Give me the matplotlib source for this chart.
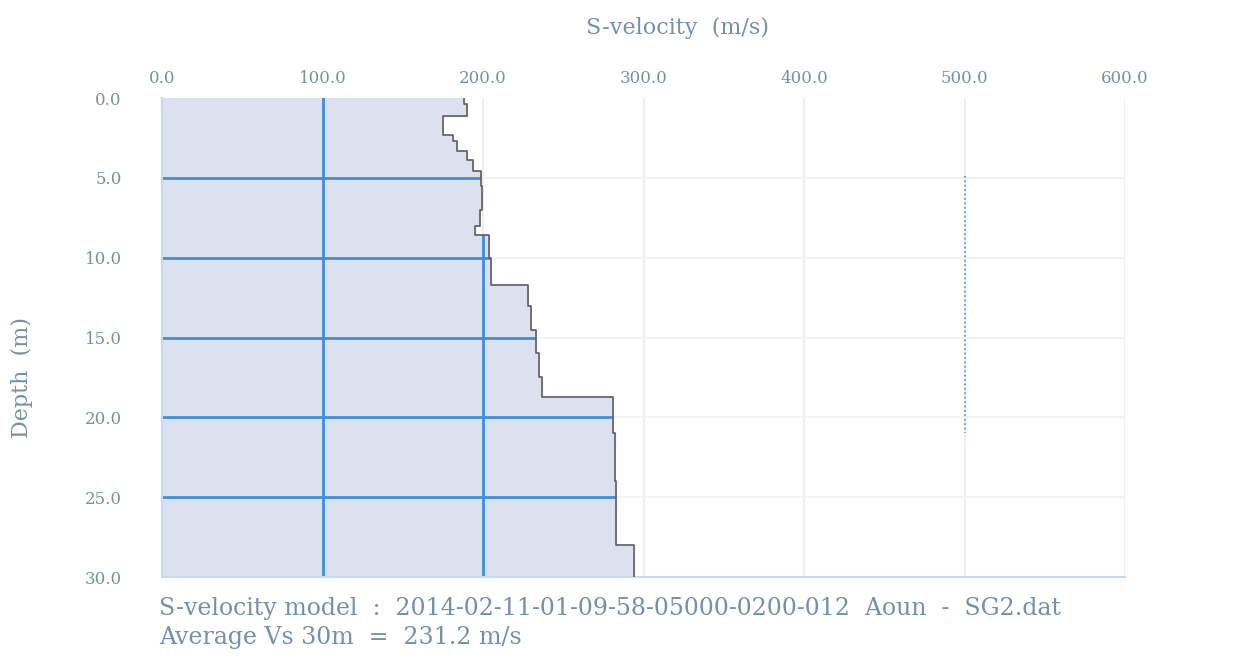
import matplotlib.pyplot as plt
import numpy as np

# layer tops (m) and shear-wave velocities (m/s)
layer_top = [0.0, 0.35, 1.1, 2.3, 2.7, 3.3, 3.9, 4.6, 5.5, 7.0, 8.0, 8.6,
             10.0, 11.7, 13.0, 14.5, 16.0, 17.5, 18.7, 21.0, 24.0, 28.0]
layer_vs = [188, 190, 175, 181, 184, 190, 194, 199, 199.5, 198, 195, 204,
            205, 228, 230, 233, 235, 237, 281, 282, 283, 294]
max_depth = 30.0

x_ticks = [0, 100, 200, 300, 400, 500, 600]
y_ticks = [0, 5, 10, 15, 20, 25, 30]

txt_col = '#7590ac'
serif = ['DejaVu Serif']

# staircase outline of the profile
bottoms = layer_top[1:] + [max_depth]
px, py = [0], [0]
for top, bot, v in zip(layer_top, bottoms, layer_vs):
    px += [v, v]
    py += [top, bot]
px.append(0)
py.append(max_depth)

fig = plt.figure(figsize=(12.34, 6.56), dpi=100)
ax = fig.add_axes([0.1313, 0.1204, 0.7804, 0.7302])

# faint background grid
for x in x_ticks[1:]:
    ax.axvline(x, color='#efefef', lw=1.5, zorder=0)
for y in y_ticks[1:-1]:
    ax.axhline(y, color='#f3f3f3', lw=1.5, zorder=0)

poly = ax.fill(px, py, color='#dde0ef', zorder=1)[0]
ax.plot(px[1:-1], py[1:-1], color='#5e5e5e', lw=1.2, zorder=3)

# grid lines shown only inside the filled profile
for x in x_ticks[1:]:
    ln = ax.axvline(x, color='#3d8ee0', lw=2, zorder=2)
    ln.set_clip_path(poly)
for y in y_ticks[1:-1]:
    ln = ax.axhline(y, color='#3d8ee0', lw=2, zorder=2)
    ln.set_clip_path(poly)

ax.plot([500, 500], [4.9, 21], color='#2e9bf0', lw=1.2, ls=':', zorder=2)

ax.set_xlim(0, 600)
ax.set_ylim(30, 0)
ax.xaxis.tick_top()
ax.set_xticks(x_ticks)
ax.set_yticks(y_ticks)
ax.set_xticklabels(['%.1f' % v for v in x_ticks], fontsize=12, color=txt_col, family=serif)
ax.set_yticklabels(['%.1f' % v for v in y_ticks], fontsize=12, color=txt_col, family=serif)
ax.tick_params(axis='x', length=0, pad=8)
ax.tick_params(axis='y', length=0, pad=29)
for s in ['top', 'right']:
    ax.spines[s].set_visible(False)
for s in ['left', 'bottom']:
    ax.spines[s].set_color('#c4dcf2')
    ax.spines[s].set_linewidth(1.5)

fig.text(0.549, 0.957, 'S-velocity  (m/s)', ha='center', va='center',
         fontsize=16, color=txt_col, family=serif)
fig.text(0.018, 0.424, 'Depth  (m)', ha='center', va='center', rotation=90,
         fontsize=16, color=txt_col, family=serif)
fig.text(0.129, 0.073, 'S-velocity model  :  2014-02-11-01-09-58-05000-0200-012  Aoun  -  SG2.dat',
         ha='left', va='center', fontsize=17, color=txt_col, family=serif)
fig.text(0.129, 0.028, 'Average Vs 30m  =  231.2 m/s',
         ha='left', va='center', fontsize=17, color=txt_col, family=serif)

fig.savefig('out.png', dpi=100)
